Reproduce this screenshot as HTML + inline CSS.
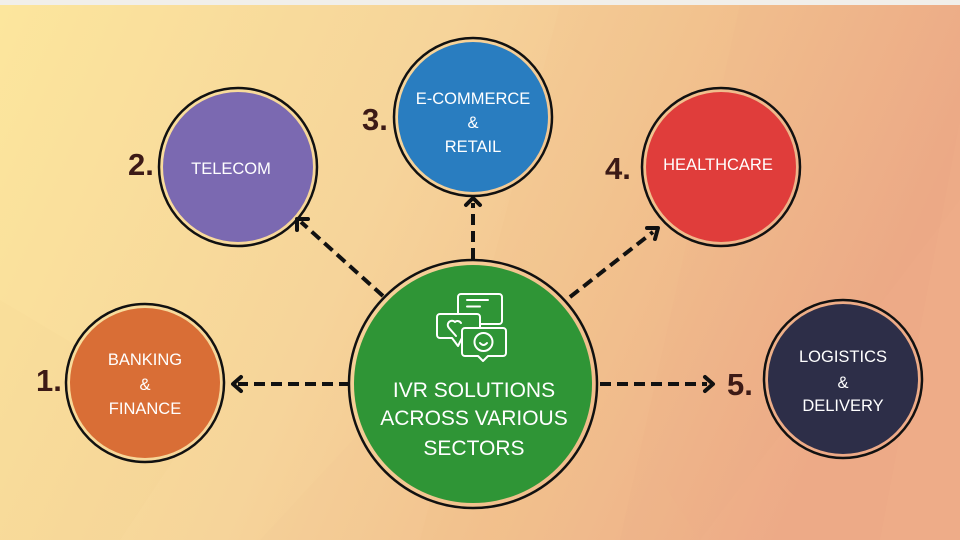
<!DOCTYPE html>
<html><head><meta charset="utf-8"><style>
html,body{margin:0;padding:0;width:960px;height:540px;overflow:hidden;}
svg{display:block;}
text{font-family:"Liberation Sans",sans-serif;}
</style></head><body>
<svg width="960" height="540" viewBox="0 0 960 540" xmlns="http://www.w3.org/2000/svg">
<defs>
<linearGradient id="bg" x1="0" y1="0" x2="1" y2="0.25">
<stop offset="0" stop-color="#fce69d"/>
<stop offset="0.45" stop-color="#f6d49a"/>
<stop offset="0.75" stop-color="#f2bf8e"/>
<stop offset="1" stop-color="#eeac88"/>
</linearGradient>
</defs>
<rect width="960" height="540" fill="url(#bg)"/>
<!-- subtle geometric overlays -->
<polygon points="560,5 960,5 960,200 700,540 420,540" fill="#e8a27c" opacity="0.035"/>
<polygon points="740,5 960,5 960,120 880,540 620,540" fill="#e39a76" opacity="0.035"/>
<polygon points="0,300 200,420 120,540 0,540" fill="#f2d08a" opacity="0.1"/>
<polygon points="260,540 520,260 700,540" fill="#efc48c" opacity="0.08"/>
<rect width="960" height="5" fill="#f1efea"/>

<!-- connectors -->
<g stroke="#111" stroke-width="4" fill="none" stroke-dasharray="11,6">
<line x1="350" y1="384" x2="238" y2="384"/>
<line x1="600" y1="384" x2="707" y2="384"/>
<line x1="473" y1="259" x2="473" y2="203"/>
<line x1="383" y1="296" x2="301" y2="222"/>
<line x1="570" y1="297" x2="653" y2="232"/>
</g>
<g stroke="#111" stroke-width="4" fill="none" stroke-linecap="round" stroke-linejoin="round">
<polyline points="241,377 233,384 241,391"/>
<polyline points="705,377 713,384 705,391"/>
<polyline points="466,205 473,198 480,205"/>
<polyline points="297,230 297,219 308,219"/>
<polyline points="647,228 658,228 655,239"/>
</g>

<!-- circles -->
<g stroke="#111" stroke-width="2.5" fill="none">
<circle cx="145" cy="383" r="79"/>
<circle cx="238" cy="167" r="79"/>
<circle cx="473" cy="117" r="79"/>
<circle cx="721" cy="167" r="79"/>
<circle cx="843" cy="379" r="79"/>
<circle cx="473" cy="384" r="124"/>
</g>
<circle cx="145" cy="383" r="75" fill="#d96e36"/>
<circle cx="238" cy="167" r="75" fill="#7b69b1"/>
<circle cx="473" cy="117" r="75" fill="#297dc0"/>
<circle cx="721" cy="167" r="75" fill="#e03d3b"/>
<circle cx="843" cy="379" r="75" fill="#2d2e48"/>
<circle cx="473" cy="384" r="119" fill="#2f9536"/>

<!-- numbers -->
<g fill="#3c1a16" font-weight="bold" font-size="31">
<text x="36" y="391">1.</text>
<text x="128" y="175">2.</text>
<text x="362" y="130">3.</text>
<text x="605" y="179">4.</text>
<text x="727" y="395">5.</text>
</g>

<!-- labels -->
<g fill="#fff" font-size="16.5" text-anchor="middle">
<text x="145" y="365">BANKING</text>
<text x="145" y="390">&amp;</text>
<text x="145" y="414">FINANCE</text>
<text x="231" y="174">TELECOM</text>
<text x="473" y="104">E-COMMERCE</text>
<text x="473" y="128">&amp;</text>
<text x="473" y="152">RETAIL</text>
<text x="718" y="170">HEALTHCARE</text>
<text x="843" y="362">LOGISTICS</text>
<text x="843" y="388">&amp;</text>
<text x="843" y="411">DELIVERY</text>
</g>
<g fill="#fff" font-size="21" text-anchor="middle">
<text x="474" y="397">IVR SOLUTIONS</text>
<text x="474" y="425">ACROSS VARIOUS</text>
<text x="474" y="455">SECTORS</text>
</g>

<!-- icon -->
<g stroke="#fff" stroke-width="2" fill="#2f9536" stroke-linejoin="round" stroke-linecap="round">
<rect x="458" y="294" width="44" height="30" rx="3"/>
<line x1="467" y1="300" x2="488" y2="300"/>
<line x1="467" y1="306.5" x2="480" y2="306.5"/>
<path d="M440,314 H477 a3,3 0 0 1 3,3 V335 a3,3 0 0 1 -3,3 H462 L458,346 L452,338 H440 a3,3 0 0 1 -3,-3 V317 a3,3 0 0 1 3,-3 Z"/>
<path d="M456,336 L449,328 a4,4 0 0 1 6,-6 a4,4 0 0 1 6,1" fill="none"/>
<path d="M465,328 H503 a3,3 0 0 1 3,3 V353 a3,3 0 0 1 -3,3 H488 L483,361 L478,356 H465 a3,3 0 0 1 -3,-3 V331 a3,3 0 0 1 3,-3 Z"/>
<circle cx="483.5" cy="342" r="9" fill="none"/>
<path d="M480,343 q3.5,4 7,0" fill="none"/>
</g>
</svg>
</body></html>
